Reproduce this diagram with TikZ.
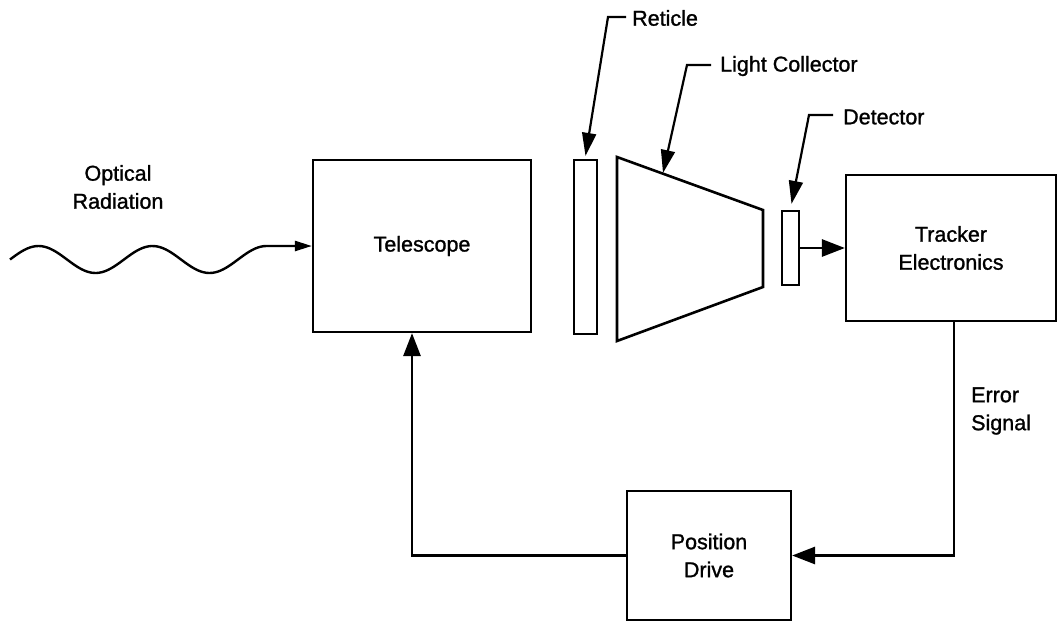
\documentclass[tikz,border=0pt]{standalone}
\usepackage{fontspec}
\setmainfont{Liberation Sans}
\newfontfamily\heavyfam{Liberation Sans}[FakeBold=1.2]
\usetikzlibrary{arrows.meta}
\newcommand\lblfont{\heavyfam\fontsize{21.5}{28}\selectfont}
\begin{document}
\begin{tikzpicture}[x=1pt,y=-1pt,
  box/.style={draw, line width=2.2pt, inner sep=0pt, align=center, font=\lblfont},
  plate/.style={draw, line width=2.2pt, inner sep=0pt},
  lbl/.style={inner sep=0pt, align=center, font=\lblfont},
  conn/.style={line width=2.8pt, -{Triangle[length=23pt,width=17pt]}},
  wavey/.style={line width=2.4pt, -{Triangle[length=17pt,width=10pt]}},
  leader/.style={line width=2.2pt, -{Triangle[length=23pt,width=14pt]}}
]
\useasboundingbox (0,0) rectangle (1058,622);

% blocks
\node[box, minimum width=218pt, minimum height=172pt] (tel) at (422,246) {Telescope};
\node[plate, minimum width=23pt, minimum height=174pt] (ret) at (585.5,247) {};
\node[plate, minimum width=17pt, minimum height=74pt] (det) at (790.5,248) {};
\node[box, minimum width=210pt, minimum height=146pt] (trk) at (951,248) {Tracker\\Electronics};
\node[box, minimum width=164pt, minimum height=129pt] (pd) at (709,555.5) {Position\\Drive};

% light collector (trapezoid)
\draw[line width=2.6pt, line join=miter] (617,157) -- (763,210) -- (763,287) -- (617,341) -- cycle;
\coordinate (lcpt) at (663,173);

% labels
\node[lbl] (opt) at (118,187) {Optical\\Radiation};
\node[lbl, anchor=west] (retlab) at (632,18) {Reticle};
\node[lbl, anchor=west] (lclab) at (720,66) {Light Collector};
\node[lbl, anchor=west] (detlab) at (843,117) {Detector};
\node[lbl, anchor=west, align=left] (errlab) at (971,411) {Error\\Signal};

% leaders
\draw[leader] ([xshift=-6pt,yshift=1pt]retlab.west) -- ++(-18,0) -- ([yshift=3pt]ret.north);
\draw[leader] ([xshift=-9pt,yshift=1pt]lclab.west) -- ++(-24,0) -- (lcpt);
\draw[leader] ([xshift=-10pt,yshift=2pt]detlab.west) -- ++(-24,0) -- ([yshift=6pt,xshift=1pt]det.north);

% optical radiation wave
\coordinate (wstart) at (10,259.5);
\draw[wavey] (wstart) plot[domain=10:266.5, samples=90, smooth] (\x, {259.5-13.5*sin((\x-10)/114*360)}) -- (tel.west);

% signal path
\draw[conn] (det.east) -- (trk.west);
\draw[conn] ([xshift=3pt]trk.south) |- (pd.east);
\draw[conn] (pd.west) -| ([xshift=-10pt]tel.south);
\end{tikzpicture}
\end{document}
